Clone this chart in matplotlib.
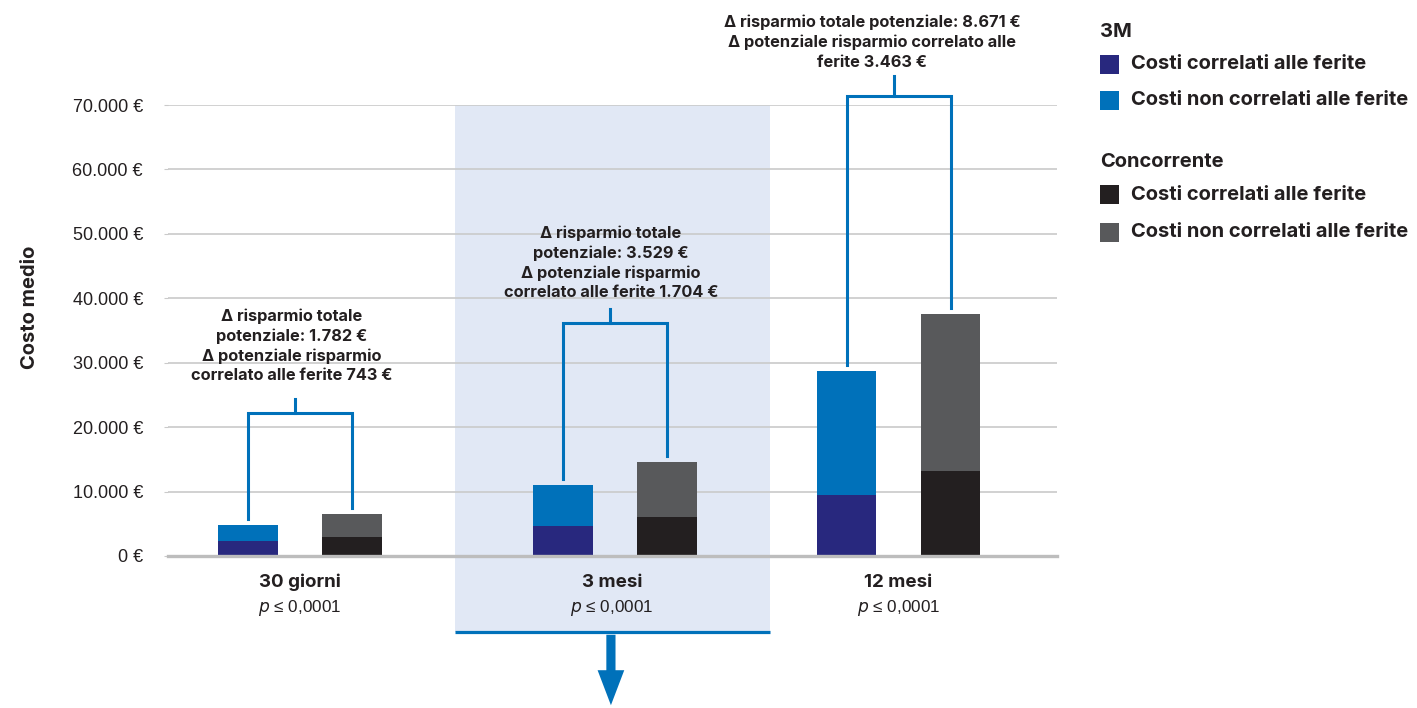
import matplotlib
matplotlib.use("Agg")
import matplotlib.pyplot as plt
from matplotlib.patches import Rectangle, FancyArrowPatch
import matplotlib.transforms as mtransforms

plt.rcParams['font.family'] = ['Inter', 'DejaVu Sans']

# ---- data ----
categories = ['30 giorni', '3 mesi', '12 mesi']
p_labels = ['0,0001', '0,0001', '0,0001']
m3_wound = [2290, 4670, 9530]
m3_nonwound = [2480, 6370, 19130]
comp_wound = [2910, 6070, 13260]
comp_nonwound = [3580, 8550, 24270]
annotations = [
    "Δ risparmio totale\npotenziale: 1.782 €\nΔ potenziale risparmio\ncorrelato alle ferite 743 €",
    "Δ risparmio totale\npotenziale: 3.529 €\nΔ potenziale risparmio\ncorrelato alle ferite 1.704 €",
    "Δ risparmio totale potenziale: 8.671 €\nΔ potenziale risparmio correlato alle\nferite 3.463 €",
]
yticks = [0, 10000, 20000, 30000, 40000, 50000, 60000, 70000]
ytick_labels = ['0 €', '10.000 €', '20.000 €', '30.000 €', '40.000 €', '50.000 €', '60.000 €', '70.000 €']

# ---- layout / style ----
positions = [0.0, 1.0, 1.9]
offset = 0.165
width = 0.19
bracket_y = [22150, 36190, 71430]
tick_len = [2200, 2200, 3100]
leg_gap = 950
text_dx = [-0.025, -0.013, -0.084]
text_y = [26800, 39700, 75500]

c_navy = '#28287E'
c_blue = '#0071BA'
c_black = '#231F20'
c_gray = '#58595B'
c_shade = '#E1E8F5'
c_text = '#231F20'
reg_font = ['Liberation Sans', 'DejaVu Sans']

fig = plt.figure(figsize=(14.17, 7.08), dpi=100)
ax = fig.add_axes([168/1417, 1-556/708, (1057-168)/1417, (556-105)/708])
ax.set_xlim(-0.419, 2.403)
ax.set_ylim(0, 70000)

# shaded region for 3 mesi
trans = mtransforms.blended_transform_factory(ax.transData, ax.transAxes)
shade_x0 = positions[1] - 0.508
shade_x1 = positions[1] + 0.492
shade_bottom = -0.1685
ax.add_patch(Rectangle((shade_x0, shade_bottom), shade_x1 - shade_x0, 1 - shade_bottom,
                       transform=trans, facecolor=c_shade, edgecolor='none',
                       zorder=0, clip_on=False))
ax.plot([shade_x0, shade_x1], [shade_bottom, shade_bottom], transform=trans,
        color=c_blue, lw=2.3, clip_on=False, zorder=3, solid_capstyle='butt')
arrow_x = positions[1] - 0.013
arr = FancyArrowPatch((arrow_x, shade_bottom), (arrow_x, -0.337), transform=trans,
                      arrowstyle='simple,head_width=1.6,head_length=2.1,tail_width=0.55',
                      mutation_scale=12, color=c_blue, clip_on=False, zorder=3, lw=0)
ax.add_patch(arr)

# grid
for t in yticks[1:]:
    ax.axhline(t, color='#CACACA', lw=1.2, zorder=1)

# bars
xl = [p - offset for p in positions]
xr = [p + offset for p in positions]
ax.bar(xl, m3_wound, width=width, color=c_navy, zorder=2)
ax.bar(xl, m3_nonwound, width=width, bottom=m3_wound, color=c_blue, zorder=2)
ax.bar(xr, comp_wound, width=width, color=c_black, zorder=2)
ax.bar(xr, comp_nonwound, width=width, bottom=comp_wound, color=c_gray, zorder=2)

# brackets and annotations
for i, p in enumerate(positions):
    t3 = m3_wound[i] + m3_nonwound[i]
    tc = comp_wound[i] + comp_nonwound[i]
    by = bracket_y[i]
    ax.plot([xl[i], xl[i], xr[i], xr[i]], [t3 + leg_gap, by, by, tc + leg_gap],
            color=c_blue, lw=2.2, clip_on=False, zorder=3, solid_joinstyle='miter')
    tx = p - 0.016
    ax.plot([tx, tx], [by, by + tick_len[i]], color=c_blue, lw=2.2, clip_on=False, zorder=3)
    ax.text(p + text_dx[i], text_y[i], annotations[i], ha='center', va='bottom',
            fontsize=11.8, fontweight='bold', color=c_text, linespacing=1.35, clip_on=False)

# category labels
for i, p in enumerate(positions):
    cx = p if i != 1 else p - 0.01
    ax.text(cx, -0.058, categories[i], transform=trans, ha='center', va='center',
            fontsize=13.5, fontweight='bold', color=c_text)
    ax.text(cx, -0.116, '$\\it{p}$ ≤ ' + p_labels[i], transform=trans, ha='center', va='center',
            fontsize=12.3, color=c_text, family=reg_font)

# axes styling
for s in ['top', 'right', 'left']:
    ax.spines[s].set_visible(False)
ax.spines['bottom'].set_color('#BDBDBD')
ax.spines['bottom'].set_linewidth(2.4)
ax.set_xticks([])
ax.set_yticks(yticks)
ax.set_yticklabels(ytick_labels, fontsize=13, color=c_text, family=reg_font)
ax.tick_params(axis='y', length=3, color='#CACACA', pad=15)
fig.text(30/1417, 1-307/708, 'Costo medio', rotation=90, ha='center', va='center',
         fontsize=14.5, fontweight='bold', color=c_text)

# legend (manual)
def fx(px):
    return px / 1417
def fy(py):
    return 1 - py / 708

fig.text(fx(1100), fy(32), '3M', ha='left', va='center', fontsize=14.5,
         fontweight='bold', color=c_text)
fig.text(fx(1100), fy(162), 'Concorrente', ha='left', va='center', fontsize=14.5,
         fontweight='bold', color=c_text)
legend_items = [(64, c_navy, 'Costi correlati alle ferite'),
                (100, c_blue, 'Costi non correlati alle ferite'),
                (195, c_black, 'Costi correlati alle ferite'),
                (232, c_gray, 'Costi non correlati alle ferite')]
for yc, col, lab in legend_items:
    fig.patches.append(Rectangle((fx(1100), fy(yc + 9.5)), 19/1417, 19/708,
                                 transform=fig.transFigure, facecolor=col, edgecolor='none'))
    fig.text(fx(1131), fy(yc), lab, ha='left', va='center', fontsize=14.5,
             fontweight='bold', color=c_text)

fig.savefig('out.png', dpi=100)
